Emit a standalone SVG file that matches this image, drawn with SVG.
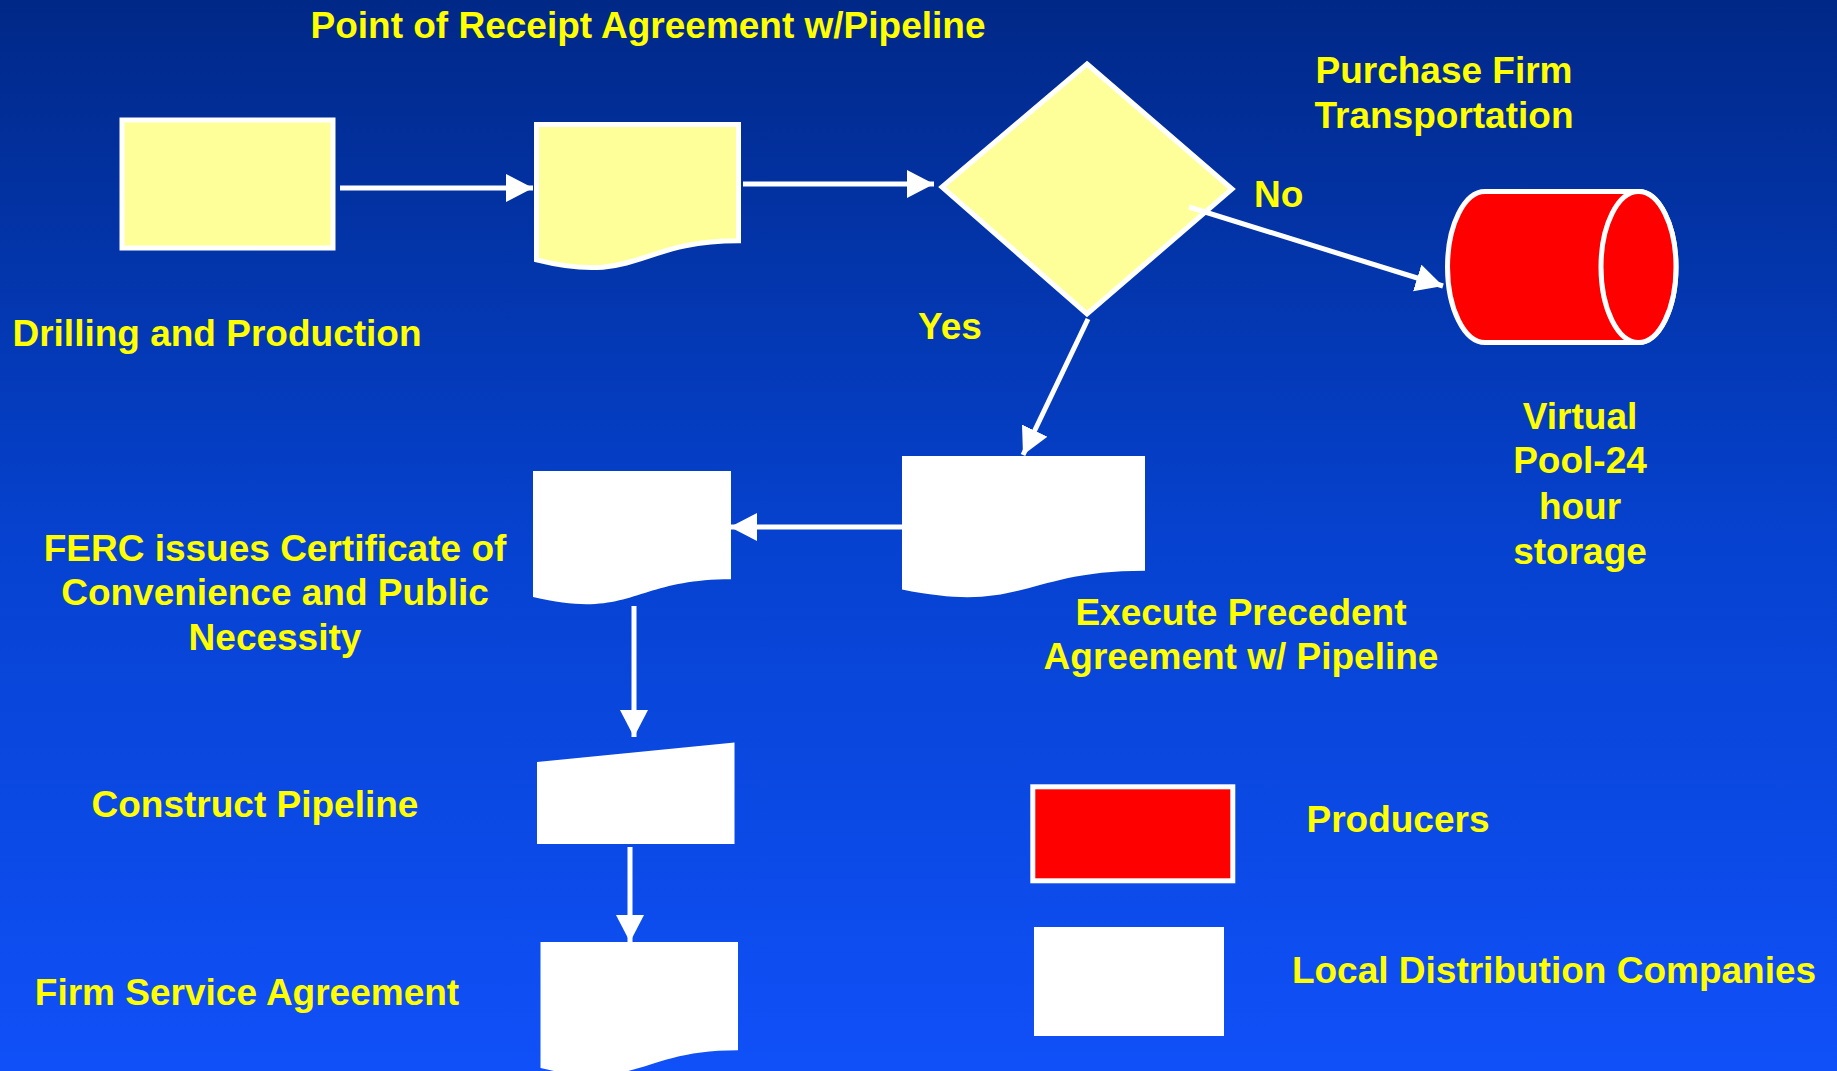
<svg xmlns="http://www.w3.org/2000/svg" width="1837" height="1071" viewBox="0 0 1837 1071">
<defs>
<linearGradient id="bg" x1="0" y1="0" x2="0" y2="1">
<stop offset="0" stop-color="#002887"/>
<stop offset="0.5" stop-color="#0642CF"/>
<stop offset="1" stop-color="#1050F8"/>
</linearGradient>
<marker id="ah" markerUnits="userSpaceOnUse" markerWidth="30" markerHeight="30" refX="27" refY="14" orient="auto">
<path d="M0,0 L27,14 L0,28 Z" fill="#FFFFFF"/>
</marker>
<style>
.t{font-family:"Liberation Sans",Arial,sans-serif;font-weight:bold;font-size:37px;fill:#FFFF00}
.m{text-anchor:middle}
.y{fill:#FFFF99;stroke:#FFFFFF;stroke-width:5}
.w{fill:#FFFFFF}
.r{fill:#FF0000;stroke:#FFFFFF;stroke-width:5}
.c{fill:none;stroke:#FFFFFF;stroke-width:5;marker-end:url(#ah)}
</style>
</defs>
<rect x="0" y="0" width="1837" height="1071" fill="url(#bg)"/>

<g id="title-label"><text class="t m" x="648" y="38">Point of Receipt Agreement w/Pipeline</text></g>

<g id="drilling">
<rect class="y" x="122" y="120" width="211" height="128"/>
<text class="t m" x="217" y="346">Drilling and Production</text>
</g>

<g id="point-of-receipt">
<path class="y" d="M536.5,124.5 H738.5 V240.8 C637.5,240.8 637.5,285.1 536.5,259.9 Z"/>
</g>

<g id="decision">
<polygon class="y" points="1087,64 1232,189 1087,314 942,187"/>
<text class="t" x="1254" y="207">No</text>
<text class="t" x="918" y="339">Yes</text>
</g>

<g id="purchase-firm">
<text class="t m" x="1444" y="83">Purchase Firm</text>
<text class="t m" x="1444" y="128">Transportation</text>
</g>

<g id="virtual-pool">
<path class="r" d="M1485,191.5 L1638.5,191.5 A37.5,75.5 0 0 1 1638.5,342.5 L1485,342.5 A37.5,75.5 0 0 1 1485,191.5 Z"/>
<ellipse class="r" cx="1638.5" cy="267" rx="37.5" ry="75.5"/>
<text class="t m" x="1580" y="429">Virtual</text>
<text class="t m" x="1580" y="473">Pool-24</text>
<text class="t m" x="1580" y="519">hour</text>
<text class="t m" x="1580" y="564">storage</text>
</g>

<g id="execute-precedent">
<path class="w" d="M902,456 H1145 V570.7 C1023.5,570.7 1023.5,614.4 902,589.6 Z"/>
<text class="t m" x="1241" y="625">Execute Precedent</text>
<text class="t m" x="1241" y="669">Agreement w/ Pipeline</text>
</g>

<g id="ferc">
<path class="w" d="M533,471 H731 V579.3 C632,579.3 632,620.5 533,597.1 Z"/>
<text class="t m" x="275" y="561">FERC issues Certificate of</text>
<text class="t m" x="275" y="605">Convenience and Public</text>
<text class="t m" x="275" y="650">Necessity</text>
</g>

<g id="construct">
<polygon class="w" points="537,762 734.5,742.5 734.5,844 537,844"/>
<text class="t m" x="255" y="817">Construct Pipeline</text>
</g>

<g id="firm-service">
<path class="w" d="M540.5,942 H738 V1050.3 C639.3,1050.3 639.3,1091.5 540.5,1068.1 Z"/>
<text class="t m" x="247" y="1005">Firm Service Agreement</text>
</g>

<g id="legend-producers">
<rect class="r" x="1032.8" y="786.8" width="200" height="94"/>
<text class="t m" x="1398" y="832">Producers</text>
</g>

<g id="legend-ldc">
<rect class="w" x="1034" y="927" width="190" height="109"/>
<text class="t m" x="1554" y="983">Local Distribution Companies</text>
</g>

<g id="connectors">
<line class="c" x1="340" y1="188" x2="533" y2="188"/>
<line class="c" x1="743" y1="184" x2="934" y2="184"/>
<line class="c" x1="1189" y1="207" x2="1443" y2="286"/>
<line class="c" x1="1088" y1="319" x2="1023" y2="455"/>
<line class="c" x1="902" y1="527" x2="730" y2="527"/>
<line class="c" x1="634" y1="606" x2="634" y2="737"/>
<line class="c" x1="630" y1="847" x2="630" y2="942"/>
</g>
</svg>
